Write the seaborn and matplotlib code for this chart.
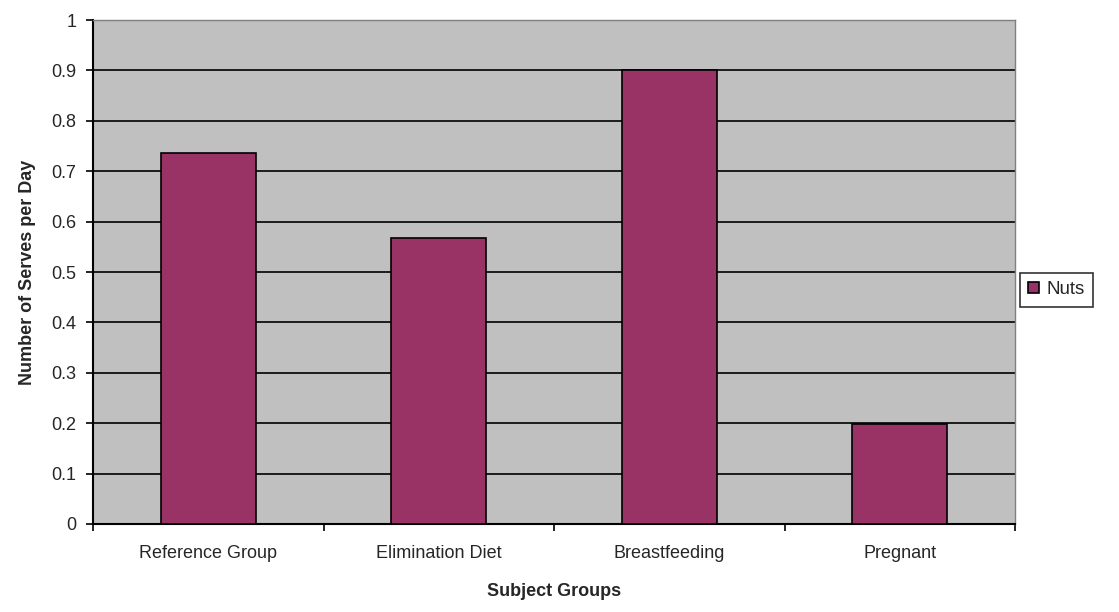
import pandas as pd
import seaborn as sns
import matplotlib.pyplot as plt

############# Chart data ################################
########################################################
groups = ['Reference Group', 'Elimination Diet', 'Breastfeeding', 'Pregnant']
nuts = [0.737, 0.567, 0.90, 0.198]
series_name = 'Nuts'

df = pd.DataFrame({'group': groups, 'value': nuts, 'series': series_name})

############# Style ####################################
########################################################
sns.set_style('white')
plt.rcParams['font.family'] = ['Liberation Sans', 'DejaVu Sans']

fig = plt.figure(figsize=(11.19, 6.12), dpi=100)
ax = fig.add_axes([93 / 1119, 88 / 612, 922 / 1119, 504 / 612])
ax.set_facecolor('#C0C0C0')

sns.barplot(data=df, x='group', y='value', hue='series', palette=['#993366'],
            saturation=1, width=0.41, edgecolor='black', linewidth=1.2,
            ax=ax, zorder=3)

# Axes limits and grid
ax.set_ylim(0, 1)
ax.set_xlim(-0.5, len(groups) - 0.5)
ax.set_yticks([i / 10 for i in range(11)])
ax.set_yticklabels(['0'] + [f'{i / 10:.1f}' for i in range(1, 10)] + ['1'])
ax.yaxis.grid(True, color='black', linewidth=1.2, zorder=0)
ax.set_axisbelow(True)

# Category boundary ticks on x axis
ax.set_xticks(range(len(groups)))
ax.set_xticks([i - 0.5 for i in range(len(groups) + 1)], minor=True)
ax.tick_params(axis='x', which='major', length=0, pad=15, labelsize=13)
ax.tick_params(axis='x', which='minor', length=5, width=1.2, color='black', direction='out')
ax.tick_params(axis='y', length=5, width=1.2, color='black', direction='out', labelsize=13, pad=7)
ax.tick_params(bottom=True, left=True, which='both')

for side in ['left', 'bottom']:
    ax.spines[side].set_color('black')
    ax.spines[side].set_linewidth(1.5)
for side in ['top', 'right']:
    ax.spines[side].set_color('#808080')
    ax.spines[side].set_linewidth(1)

ax.set_xlabel('Subject Groups', fontsize=13, fontweight='bold', labelpad=15)
ax.set_ylabel('Number of Serves per Day', fontsize=13, fontweight='bold', labelpad=11)

# Legend to the right of plot
leg = ax.legend(loc='center left', bbox_to_anchor=(1.005, 0.465), frameon=True,
                fancybox=False, edgecolor='black', fontsize=13.5,
                handlelength=0.6, handleheight=0.6, handletextpad=0.4,
                borderpad=0.45, borderaxespad=0)
leg.get_frame().set_linewidth(1.2)

plt.savefig('out.png', dpi=100)
